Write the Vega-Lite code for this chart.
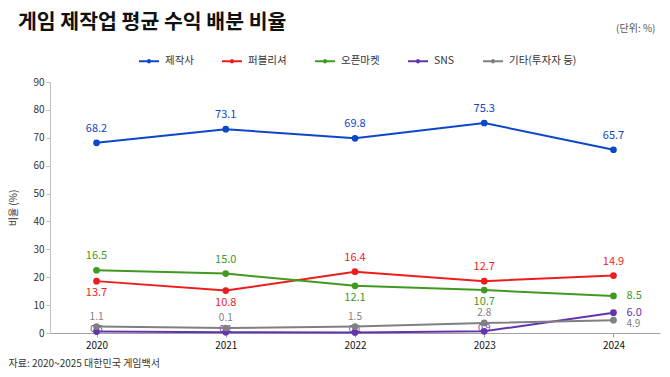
{
  "$schema": "https://vega.github.io/schema/vega-lite/v6.json",
  "width": 610,
  "height": 251,
  "autosize": {"type": "none"},
  "padding": {"left": 50, "top": 82, "right": 10, "bottom": 44},
  "background": "white",
  "config": {"font": "Noto Sans CJK KR", "view": {"stroke": null}},
  "title": {"text": "게임 제작업 평균 수익 배분 비율", "anchor": "start", "frame": "group", "dx": -32, "fontSize": 20.5, "fontWeight": "bold", "color": "#111111", "offset": 0, "dy": 10},
  "data": {"values": [
    {"series": "제작사", "year": 2020, "value": 68.2, "label": "68.2"},
    {"series": "제작사", "year": 2021, "value": 73.1, "label": "73.1"},
    {"series": "제작사", "year": 2022, "value": 69.8, "label": "69.8"},
    {"series": "제작사", "year": 2023, "value": 75.3, "label": "75.3"},
    {"series": "제작사", "year": 2024, "value": 65.7, "label": "65.7"},
    {"series": "퍼블리셔", "year": 2020, "value": 18.6, "label": "13.7"},
    {"series": "퍼블리셔", "year": 2021, "value": 15.2, "label": "10.8"},
    {"series": "퍼블리셔", "year": 2022, "value": 22.0, "label": "16.4"},
    {"series": "퍼블리셔", "year": 2023, "value": 18.6, "label": "12.7"},
    {"series": "퍼블리셔", "year": 2024, "value": 20.6, "label": "14.9"},
    {"series": "오픈마켓", "year": 2020, "value": 22.5, "label": "16.5"},
    {"series": "오픈마켓", "year": 2021, "value": 21.3, "label": "15.0"},
    {"series": "오픈마켓", "year": 2022, "value": 16.9, "label": "12.1"},
    {"series": "오픈마켓", "year": 2023, "value": 15.4, "label": "10.7"},
    {"series": "오픈마켓", "year": 2024, "value": 13.3, "label": "8.5"},
    {"series": "SNS", "year": 2020, "value": 0.5, "label": "0.5"},
    {"series": "SNS", "year": 2021, "value": 0.3, "label": "0.1"},
    {"series": "SNS", "year": 2022, "value": 0.2, "label": "0.1"},
    {"series": "SNS", "year": 2023, "value": 0.6, "label": "0.9"},
    {"series": "SNS", "year": 2024, "value": 7.3, "label": "6.0"},
    {"series": "기타(투자자 등)", "year": 2020, "value": 2.3, "label": "1.1"},
    {"series": "기타(투자자 등)", "year": 2021, "value": 1.8, "label": "0.1"},
    {"series": "기타(투자자 등)", "year": 2022, "value": 2.3, "label": "1.5"},
    {"series": "기타(투자자 등)", "year": 2023, "value": 3.6, "label": "2.8"},
    {"series": "기타(투자자 등)", "year": 2024, "value": 4.6, "label": "4.9"}
  ]},
  "encoding": {
    "x": {"field": "year", "type": "ordinal", "scale": {"type": "point", "padding": 0.36},
      "axis": {"labelAngle": 0, "labelFontSize": 10, "labelColor": "#111111", "labelFontWeight": "normal", "labelPadding": 3,
        "domainColor": "#a0a0a0", "tickColor": "#a0a0a0", "tickSize": 4, "grid": false,
        "title": "자료: 2020~2025 대한민국 게임백서", "titleFontSize": 10, "titleFontWeight": "normal", "titleColor": "#333333",
        "titleAnchor": "start", "titleAlign": "left", "titleBaseline": "middle", "titleX": -42, "titleY": 30}},
    "y": {"field": "value", "type": "quantitative", "scale": {"domain": [0, 90]}, "axis": null},
    "color": {"field": "series", "type": "nominal",
      "scale": {"domain": ["제작사", "퍼블리셔", "오픈마켓", "SNS", "기타(투자자 등)"], "range": ["#0b47c9", "#ee1c1c", "#3f9a1f", "#6434b0", "#808080"]},
      "legend": {"orient": "none", "legendX": 88, "legendY": -32, "direction": "horizontal", "title": null,
        "symbolType": "M-1,0H1M-0.12,0a0.12,0.12 0 1,0 0.24,0a0.12,0.12 0 1,0 -0.24,0", "symbolSize": 400, "symbolStrokeWidth": 2,
        "labelFontSize": 10.5, "labelColor": "#333333", "columnPadding": 24, "labelOffset": 5}}
  },
  "layer": [
    {
      "transform": [{"filter": "datum.series === 'SNS' && datum.year < 2024"}],
      "mark": {"type": "text", "fontSize": 9, "dy": -3, "baseline": "middle"},
      "encoding": {"text": {"field": "label"},
        "y": {"field": "value", "type": "quantitative", "scale": {"domain": [0, 90]},
          "axis": {"orient": "right", "labels": false, "ticks": false, "domain": false, "grid": false,
            "title": "(단위: %)", "titleAngle": 0, "titleAlign": "right", "titleBaseline": "middle", "titleX": -5, "titleY": -54,
            "titleFontSize": 10, "titleFontWeight": "normal", "titleColor": "#555555"}}}
    },
    {
      "mark": {"type": "line", "strokeWidth": 2},
      "encoding": {
        "y": {"field": "value", "type": "quantitative", "scale": {"domain": [0, 90]},
          "axis": {"orient": "left", "values": [0, 10, 20, 30, 40, 50, 60, 70, 80, 90], "labelFontSize": 10, "labelColor": "#333333",
            "gridColor": "#e6e6e6", "domainColor": "#c0c0c0", "tickColor": "#c0c0c0", "tickSize": 4,
            "title": "비율 (%)", "titleFontSize": 10, "titleFontWeight": "normal", "titleColor": "#333333", "titlePadding": 14}}}
    },
    {
      "mark": {"type": "point", "filled": true, "size": 45, "opacity": 1}
    },
    {
      "transform": [{"filter": "datum.series === '제작사' || (datum.series === '퍼블리셔' && datum.year >= 2022) || (datum.series === '오픈마켓' && datum.year <= 2021)"}],
      "mark": {"type": "text", "fontSize": 11, "dy": -14, "baseline": "middle"},
      "encoding": {"text": {"field": "label"}}
    },
    {
      "transform": [{"filter": "(datum.series === '퍼블리셔' && datum.year <= 2021) || (datum.series === '오픈마켓' && datum.year >= 2022 && datum.year <= 2023)"}],
      "mark": {"type": "text", "fontSize": 11, "dy": 12, "baseline": "middle"},
      "encoding": {"text": {"field": "label"}}
    },
    {
      "transform": [{"filter": "datum.series === '기타(투자자 등)' && datum.year <= 2023"}],
      "mark": {"type": "text", "fontSize": 10, "dy": -10, "baseline": "middle"},
      "encoding": {"text": {"field": "label"}}
    },
    {
      "transform": [{"filter": "datum.year === 2024 && (datum.series === '오픈마켓' || datum.series === 'SNS')"}],
      "mark": {"type": "text", "fontSize": 11, "dx": 13, "align": "left", "baseline": "middle"},
      "encoding": {"text": {"field": "label"}}
    },
    {
      "transform": [{"filter": "datum.year === 2024 && datum.series === '기타(투자자 등)'"}],
      "mark": {"type": "text", "fontSize": 10, "dx": 13, "dy": 4, "align": "left", "baseline": "middle"},
      "encoding": {"text": {"field": "label"}}
    }
  ],
  "resolve": {"axis": {"y": "independent"}}
}
